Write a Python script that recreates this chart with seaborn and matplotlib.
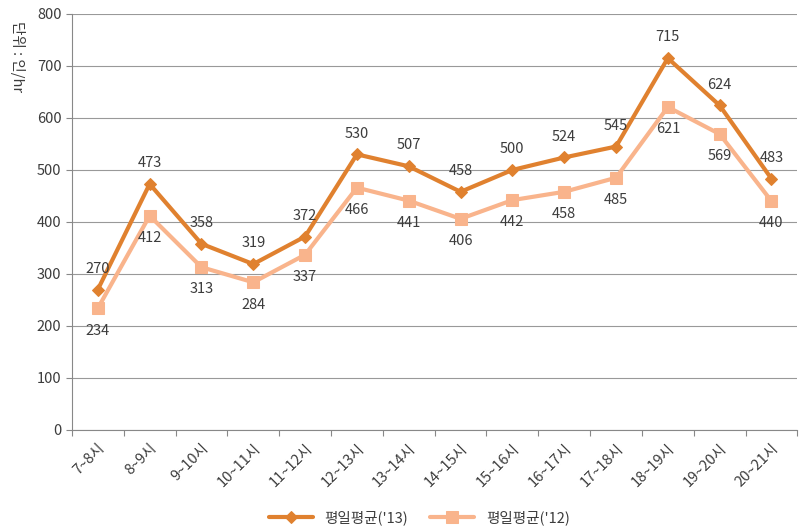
import pandas as pd
import matplotlib.pyplot as plt
import seaborn as sns

# 데이터
hours = ['7~8시', '8~9시', '9~10시', '10~11시', '11~12시', '12~13시', '13~14시',
         '14~15시', '15~16시', '16~17시', '17~18시', '18~19시', '19~20시', '20~21시']
avg_13 = [270, 473, 358, 319, 372, 530, 507, 458, 500, 524, 545, 715, 624, 483]
avg_12 = [234, 412, 313, 284, 337, 466, 441, 406, 442, 458, 485, 621, 569, 440]

df = pd.DataFrame({'hour': hours, "평일평균('13)": avg_13, "평일평균('12)": avg_12})
df['x'] = range(len(hours))

sns.set_style('white')
plt.rcParams['font.family'] = ['Noto Sans CJK KR', 'DejaVu Sans']

c13 = '#E0812F'
c12 = '#F9B48C'
tc = '#3c3c3c'

fig = plt.figure(figsize=(7.99, 5.30), dpi=100)
ax = fig.add_axes([0.09, 0.1887, 0.908, 0.785])

sns.lineplot(x='x', y="평일평균('12)", data=df, ax=ax, color=c12, lw=3,
             marker='s', markersize=9, markeredgecolor=c12, label="평일평균('12)")
sns.lineplot(x='x', y="평일평균('13)", data=df, ax=ax, color=c13, lw=3,
             marker='D', markersize=6, markeredgecolor=c13, label="평일평균('13)")

# 데이터 레이블
for i in range(len(hours)):
    ax.annotate(str(avg_13[i]), (i, avg_13[i]), xytext=(0, 15), textcoords='offset points',
                ha='center', va='center', fontsize=10.5, color=tc)
    ax.annotate(str(avg_12[i]), (i, avg_12[i]), xytext=(0, -16), textcoords='offset points',
                ha='center', va='center', fontsize=10.5, color=tc)

ax.set_xlim(-0.5, len(hours) - 0.5)
ax.set_ylim(0, 800)
ax.set_yticks(range(0, 801, 100))
ax.set_xticks([i - 0.5 for i in range(len(hours) + 1)], minor=False)
ax.set_xticklabels([])
ax.set_xticks(range(len(hours)), minor=True)
ax.set_xticklabels(hours, minor=True, rotation=45, ha='right', rotation_mode='anchor',
                   fontsize=10.5, color=tc)
ax.tick_params(axis='x', which='major', length=4, color='#888888', direction='out', bottom=True)
ax.tick_params(axis='x', which='minor', length=0, pad=8)
ax.tick_params(axis='y', length=4, color='#888888', direction='out', left=True,
               labelsize=10.5, labelcolor=tc)
ax.grid(axis='y', color='#999999', lw=0.8)
ax.set_axisbelow(True)
for s in ['top', 'right']:
    ax.spines[s].set_visible(False)
ax.spines['left'].set_color('#888888')
ax.spines['bottom'].set_color('#888888')
ax.set_xlabel('')
ax.set_ylabel('')
fig.text(0.022, 0.96, '단위 : 인/hr', rotation=-90, ha='center', va='top',
         fontsize=10.5, color=tc)

handles, labels = ax.get_legend_handles_labels()
ax.legend_.remove()
fig.legend(handles[::-1], labels[::-1], loc='lower center', ncol=2, frameon=False,
           fontsize=10.5, bbox_to_anchor=(0.525, -0.015), handlelength=3, columnspacing=1.5,
           labelcolor=tc)

plt.savefig('out.png', dpi=100)
